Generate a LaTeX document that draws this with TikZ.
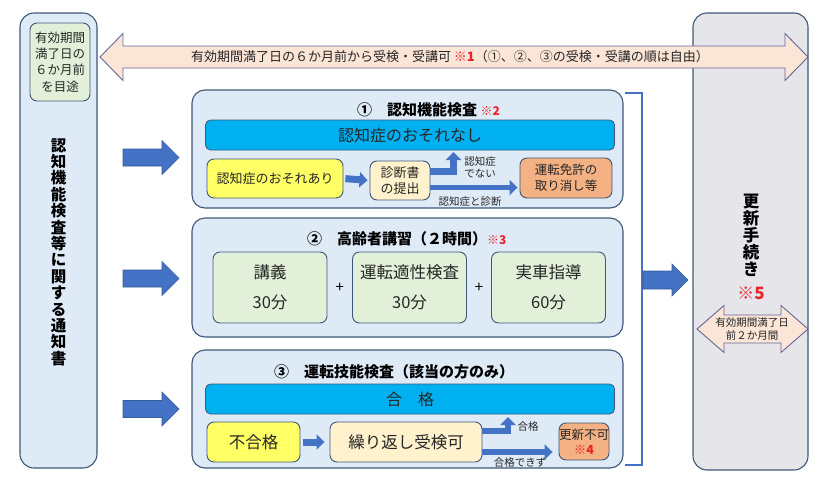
\documentclass[tikz,border=0pt]{standalone}
\usepackage{fontspec}
\setmainfont{Noto Sans CJK JP}
\usetikzlibrary{arrows.meta, calc}

\definecolor{edgeblue}{HTML}{3F5778}
\definecolor{paleblue}{HTML}{DEEBF7}
\definecolor{barblue}{HTML}{00B0F0}
\definecolor{paleyellow}{HTML}{FFFF66}
\definecolor{cream}{HTML}{FFF2CC}
\definecolor{salmon}{HTML}{F4B183}
\definecolor{palegreen}{HTML}{E2F0D9}
\definecolor{palegray}{HTML}{E6E6EA}
\definecolor{peach}{HTML}{FBE5D6}
\definecolor{arrowblue}{HTML}{4472C4}
\definecolor{noteRed}{HTML}{E8232A}
\definecolor{ink}{HTML}{262626}

\newcommand{\fsz}[2]{\fontsize{#1}{#2}\selectfont}
% block arrow: x1, x2, y, half shaft, half head, head length
\newcommand{\rarrow}[6]{\filldraw[blk] (#1,{#3-#4}) -- ({#2-#6},{#3-#4}) -- ({#2-#6},{#3-#5}) -- (#2,#3) -- ({#2-#6},{#3+#5}) -- ({#2-#6},{#3+#4}) -- (#1,{#3+#4}) -- cycle;}
\newcommand{\darrow}[6]{\filldraw[wide] (#1,#3) -- ({#1+#6},{#3-#5}) -- ({#1+#6},{#3-#4}) -- ({#2-#6},{#3-#4}) -- ({#2-#6},{#3-#5}) -- (#2,#3) -- ({#2-#6},{#3+#5}) -- ({#2-#6},{#3+#4}) -- ({#1+#6},{#3+#4}) -- ({#1+#6},{#3+#5}) -- cycle;}

\begin{document}
\begin{tikzpicture}[x=1pt, y=-1pt,
    panel/.style={draw=edgeblue, fill=paleblue, line width=1.1pt, rounded corners=13pt, minimum width=431pt},
    tall/.style={draw=edgeblue, line width=1.1pt, rounded corners=14pt},
    bar/.style={draw=edgeblue, fill=barblue, line width=0.8pt, rounded corners=5pt, minimum width=409pt, minimum height=30pt, font=\fsz{16}{16}, text=ink},
    card/.style={draw=edgeblue, line width=0.9pt, rounded corners=7pt, inner sep=0pt, align=center, text=ink},
    ttl/.style={font=\bfseries\fsz{15}{15}, anchor=west, inner sep=0pt, text=black},
    lbl/.style={font=\fsz{10.5}{12}, inner sep=0pt, text=ink, align=center},
    flow/.style={draw=arrowblue, line width=6.5pt, line join=miter, -{Triangle[length=8pt, width=15pt]}},
    blk/.style={fill=arrowblue, draw=arrowblue!80!black, line width=0.6pt},
    wide/.style={fill=peach, draw=gray!80!blue, line width=0.9pt}
]
\useasboundingbox (0,0) rectangle (825,485);

% notice (left column)
\node[tall, fill=paleblue, minimum width=77pt, minimum height=455pt] (notice) at (58.5,240.5) {};
\node[card, fill=palegreen, minimum width=60pt, minimum height=78pt, font=\fsz{12.5}{16.2}] (aim) at (60,62) {有効期間\\満了日の\\６か月前\\を目途};
\node[font=\bfseries\fsz{15.5}{16.4}, align=center, inner sep=0pt] (noticetxt) at (58.5,252) {認\\知\\機\\能\\検\\査\\等\\に\\関\\す\\る\\通\\知\\書};

% renewal (right column)
\node[tall, fill=palegray, minimum width=115pt, minimum height=457pt] (renew) at (750.5,241.5) {};
\node[font=\bfseries\fsz{16.5}{17}, align=center, inner sep=0pt] (renewtxt) at (751,235) {更\\新\\手\\続\\き};
\node[font=\fsz{17}{17}, text=noteRed, inner sep=0pt] (mark5) at (751,293) {※\textbf{5}};

% period arrows
\darrow{100}{808}{57}{11}{23.5}{23}
\node[font=\fsz{13}{13}, inner sep=0pt, text=ink] (period) at (450,57) {有効期間満了日の６か月前から受検・受講可 {\color{noteRed}※\textbf{1}}（①、②、③の受検・受講の順は自由）};
\darrow{697}{808}{329}{14}{23.5}{27}
\node[lbl, font=\fsz{10.5}{12.5}] (window) at (752,329) {有効期間満了日\\前２か月間};

% notice -> each step
\foreach \y in {157.5, 278.5, 409} {\rarrow{123}{179}{\y}{8.5}{17}{17}}

% step 1
\node[panel, minimum height=118pt] (p1) at (407.5,149) {};
\node[ttl] (t1) at (357,110) {①　認知機能検査 {\color{noteRed}\fsz{12}{12}※\textbf{2}}};
\node[bar] (bar1) at (410,135) {認知症のおそれなし};
\node[card, fill=paleyellow, minimum width=136pt, minimum height=39pt, font=\fsz{13}{16}] (risk) at (275,178.5) {認知症のおそれあり};
\node[card, fill=cream, minimum width=60pt, minimum height=39pt, font=\fsz{13}{16.5}] (diag) at (400,180.5) {診断書\\の提出};
\node[card, fill=salmon, minimum width=92pt, minimum height=40pt, font=\fsz{12.5}{16}] (revoke) at (566,178) {運転免許の\\取り消し等};
\coordinate (up1) at (453.5,152);
\coordinate (d1) at ([yshift=-7pt]diag.east);
\draw[flow] ([yshift=9pt]diag.east) -| (up1);
\draw[flow, line width=5.5pt, shorten >=2pt] (d1) -- (d1 -| revoke.west);
\draw[flow, line width=7pt, shorten <=2pt, shorten >=2pt] (risk.east) -- (diag.west);
\node[lbl] (notdem) at (480,167) {認知症\\でない};
\node[lbl] (demlbl) at (470,202) {認知症と診断};

% step 2
\node[panel, minimum height=119pt] (p2) at (407.5,277.5) {};
\node[ttl] (t2) at (307,239) {②　高齢者講習（２時間）{\color{noteRed}\fsz{12}{12}※\textbf{3}}};
\foreach \name/\x/\lineA/\lineB in {lecture/270/講義/30分, aptitude/409.5/運転適性検査/30分, driving/548.5/実車指導/60分}
  \node[card, fill=palegreen, minimum width=114pt, minimum height=71pt, font=\fsz{16.5}{30}] (\name) at (\x,287.5) {\lineA\\\lineB};
\node[font=\fsz{15}{15}, inner sep=0pt] (plusa) at ($(lecture.east)!0.5!(aptitude.west)$) {+};
\node[font=\fsz{15}{15}, inner sep=0pt] (plusb) at ($(aptitude.east)!0.5!(driving.west)$) {+};

% step 3
\node[panel, minimum height=118pt] (p3) at (407.5,409) {};
\node[ttl] (t3) at (274,372) {③　運転技能検査（該当の方のみ）};
\node[bar] (bar3) at (410,399) {合　格};
\node[card, fill=paleyellow, minimum width=93pt, minimum height=40pt, font=\fsz{16.5}{16}] (fail) at (253.5,442) {不合格};
\node[card, fill=cream, minimum width=152pt, minimum height=40pt, font=\fsz{16.5}{16}] (retry) at (406,442) {繰り返し受検可};
\node[card, fill=salmon, minimum width=48pt, minimum height=37pt, font=\fsz{12.5}{15}] (nogo) at (584,441.5) {更新不可\\{\color{noteRed}※\textbf{4}}};
\coordinate (up3) at (508,417);
\coordinate (r3) at ([yshift=-10pt]retry.east);
\draw[flow] ([yshift=11pt]retry.east) -| (up3);
\draw[flow, line width=5.5pt, shorten >=6pt] (r3) -- (r3 -| nogo.west);
\draw[flow, line width=7pt, shorten <=3pt, shorten >=5pt] (fail.east) -- (retry.west);
\node[lbl] (passlbl) at (528,427) {合格};
\node[lbl] (faillbl) at (520,463) {合格できず};

% bracket -> renewal
\coordinate (brtop) at (625,93);
\coordinate (brbot) at (625,465);
\draw[arrowblue, line width=2pt] (brtop) -- ++(17,0) |- (brbot);
\rarrow{643}{688}{280}{9}{16}{16}

\end{tikzpicture}
\end{document}
